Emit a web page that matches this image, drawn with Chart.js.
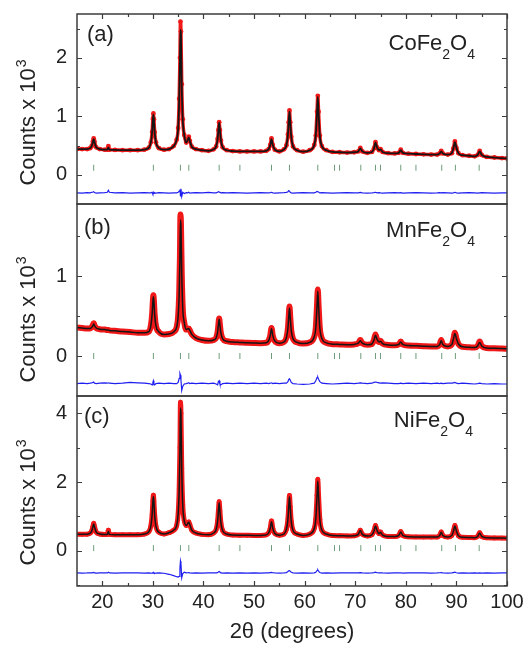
<!DOCTYPE html>
<html>
<head>
<meta charset="utf-8">
<title>XRD refinement</title>
<script src="https://cdn.jsdelivr.net/npm/chart.js@4.4.1/dist/chart.umd.min.js"></script>
<style>
  html, body { margin: 0; padding: 0; background: #fff; }
  #wrap { position: relative; width: 525px; height: 646px; }
  #wrap canvas { position: absolute; left: 0; top: 0; }
</style>
</head>
<body>
<div id="wrap">
  <canvas id="panelA" width="525" height="646"></canvas>
  <canvas id="panelB" width="525" height="646"></canvas>
  <canvas id="panelC" width="525" height="646"></canvas>
</div>
<script>
// 2theta sampling (denser across each reflection)
const twoTheta = [
  15, 16, 17, 17.6, 17.9, 18.15, 18.3, 18.45, 18.8, 19.5, 20.5,
  21.0, 21.2, 21.4, 22.5, 24, 25.5, 27, 28.3, 29.2,
  29.6, 29.85, 30.0, 30.1, 30.2, 30.35, 30.6, 31.2, 32.2, 33.2, 34.1,
  34.7, 35.0, 35.2, 35.35, 35.45, 35.55, 35.7, 35.9, 36.2,
  36.6, 36.9, 37.1, 37.3, 37.7, 38.5, 39.7, 41, 42,
  42.5, 42.8, 42.95, 43.1, 43.25, 43.45, 43.8, 44.6, 45.8, 47.2, 48.6, 50, 51.3, 52.4,
  52.9, 53.2, 53.45, 53.7, 54.1, 55, 55.9,
  56.4, 56.7, 56.85, 57.0, 57.15, 57.35, 57.7, 58.5, 59.7, 61,
  61.9, 62.2, 62.45, 62.6, 62.75, 63.0, 63.4, 64.3, 65.5, 66.9, 68.4, 69.8,
  70.6, 71.0, 71.4, 72.4, 73.3, 73.7, 74.0, 74.3, 74.7, 75.0, 75.4, 76.5, 77.8,
  78.6, 79.0, 79.4, 80.5, 82, 83.5, 85, 86.2, 86.7, 87.0, 87.3, 88.3, 89.1,
  89.4, 89.7, 90.0, 90.4, 91.2, 92.5, 93.6, 94.2, 94.6, 95.0, 96, 97.5, 99, 100
];

// CoFe2O4 (counts x 10^3)
const obsA = [
  0.44, 0.44, 0.44, 0.455, 0.49, 0.57, 0.62, 0.57, 0.47, 0.44, 0.43,
  0.43, 0.49, 0.43, 0.425, 0.42, 0.42, 0.42, 0.43, 0.465,
  0.555, 0.73, 0.955, 1.05, 0.95, 0.73, 0.555, 0.455, 0.43, 0.44, 0.49,
  0.6, 0.8, 1.3, 2.0, 2.62, 2.45, 1.55, 0.95, 0.68,
  0.55, 0.6, 0.65, 0.58, 0.48, 0.44, 0.42, 0.41, 0.435,
  0.485, 0.615, 0.765, 0.9, 0.765, 0.585, 0.47, 0.42, 0.405, 0.4, 0.4, 0.4, 0.4, 0.41,
  0.44, 0.51, 0.62, 0.51, 0.43, 0.4, 0.435,
  0.505, 0.69, 0.9, 1.1, 0.9, 0.65, 0.485, 0.42, 0.395, 0.42,
  0.51, 0.67, 1.08, 1.35, 1.08, 0.67, 0.49, 0.42, 0.39, 0.385, 0.38, 0.385,
  0.4, 0.46, 0.4, 0.375, 0.39, 0.45, 0.56, 0.47, 0.42, 0.44, 0.39, 0.37, 0.365,
  0.375, 0.43, 0.375, 0.36, 0.355, 0.35, 0.345, 0.345, 0.365, 0.41, 0.365, 0.345, 0.37,
  0.45, 0.57, 0.46, 0.37, 0.335, 0.325, 0.315, 0.34, 0.41, 0.34, 0.305, 0.295, 0.285, 0.28
];
const calcA = [
  0.44, 0.44, 0.44, 0.455, 0.49, 0.56, 0.61, 0.56, 0.47, 0.44, 0.43,
  0.43, 0.47, 0.43, 0.425, 0.42, 0.42, 0.42, 0.43, 0.465,
  0.555, 0.73, 0.95, 1.03, 0.94, 0.73, 0.555, 0.455, 0.43, 0.44, 0.49,
  0.6, 0.8, 1.28, 1.95, 2.48, 2.4, 1.55, 0.95, 0.68,
  0.55, 0.6, 0.64, 0.58, 0.48, 0.44, 0.42, 0.41, 0.435,
  0.485, 0.615, 0.76, 0.89, 0.76, 0.585, 0.47, 0.42, 0.405, 0.4, 0.4, 0.4, 0.4, 0.41,
  0.44, 0.51, 0.61, 0.51, 0.43, 0.4, 0.435,
  0.505, 0.69, 0.9, 1.08, 0.9, 0.65, 0.485, 0.42, 0.395, 0.42,
  0.51, 0.67, 1.07, 1.33, 1.07, 0.67, 0.49, 0.42, 0.39, 0.385, 0.38, 0.385,
  0.4, 0.45, 0.4, 0.375, 0.39, 0.45, 0.55, 0.47, 0.42, 0.435, 0.39, 0.37, 0.365,
  0.375, 0.42, 0.375, 0.36, 0.355, 0.35, 0.345, 0.345, 0.365, 0.4, 0.365, 0.345, 0.37,
  0.45, 0.56, 0.46, 0.37, 0.335, 0.325, 0.315, 0.34, 0.4, 0.34, 0.305, 0.295, 0.285, 0.28
];
const diffA = [
  -0.31, -0.315, -0.305, -0.31, -0.3, -0.295, -0.29, -0.305, -0.315, -0.31, -0.305,
  -0.3, -0.265, -0.3, -0.31, -0.305, -0.315, -0.31, -0.305, -0.31,
  -0.31, -0.3, -0.33, -0.32, -0.3, -0.31, -0.315, -0.305, -0.31, -0.315, -0.31,
  -0.31, -0.3, -0.28, -0.25, -0.36, -0.24, -0.37, -0.3, -0.32,
  -0.305, -0.31, -0.3, -0.315, -0.31, -0.305, -0.31, -0.3, -0.31,
  -0.31, -0.3, -0.29, -0.295, -0.3, -0.31, -0.305, -0.31, -0.305, -0.31, -0.315, -0.31, -0.305, -0.31,
  -0.31, -0.305, -0.3, -0.31, -0.315, -0.31, -0.305,
  -0.3, -0.29, -0.27, -0.28, -0.3, -0.31, -0.315, -0.31, -0.305, -0.31,
  -0.31, -0.3, -0.285, -0.29, -0.295, -0.31, -0.305, -0.31, -0.315, -0.31, -0.305, -0.31,
  -0.31, -0.3, -0.31, -0.315, -0.31, -0.305, -0.3, -0.31, -0.305, -0.31, -0.315, -0.31, -0.305,
  -0.31, -0.305, -0.315, -0.31, -0.305, -0.31, -0.315, -0.31, -0.305, -0.31, -0.305, -0.31, -0.315,
  -0.31, -0.3, -0.31, -0.315, -0.31, -0.305, -0.31, -0.315, -0.31, -0.305, -0.31, -0.315, -0.31, -0.31
];

// MnFe2O4
const obsB = [
  0.355, 0.35, 0.345, 0.345, 0.36, 0.39, 0.41, 0.385, 0.35, 0.335, 0.33,
  0.325, 0.325, 0.32, 0.315, 0.305, 0.3, 0.29, 0.29, 0.305,
  0.38, 0.52, 0.69, 0.76, 0.69, 0.52, 0.38, 0.3, 0.27, 0.275, 0.3,
  0.36, 0.5, 0.78, 1.25, 1.77, 1.65, 1.05, 0.6, 0.42,
  0.33, 0.34, 0.345, 0.32, 0.27, 0.225, 0.2, 0.19, 0.2,
  0.226, 0.3, 0.39, 0.47, 0.39, 0.285, 0.215, 0.185, 0.175, 0.17, 0.165, 0.162, 0.16, 0.165,
  0.196, 0.255, 0.35, 0.255, 0.187, 0.16, 0.175,
  0.23, 0.35, 0.49, 0.62, 0.49, 0.32, 0.215, 0.17, 0.155, 0.17,
  0.24, 0.35, 0.64, 0.83, 0.64, 0.35, 0.22, 0.165, 0.148, 0.145, 0.142, 0.145,
  0.16, 0.2, 0.16, 0.14, 0.15, 0.2, 0.27, 0.21, 0.175, 0.19, 0.155, 0.138, 0.133,
  0.145, 0.18, 0.145, 0.13, 0.127, 0.123, 0.12, 0.12, 0.145, 0.2, 0.145, 0.12, 0.145,
  0.21, 0.29, 0.22, 0.15, 0.115, 0.11, 0.105, 0.125, 0.18, 0.125, 0.1, 0.097, 0.093, 0.09
];
const calcB = [
  0.355, 0.35, 0.345, 0.345, 0.355, 0.38, 0.4, 0.38, 0.35, 0.335, 0.33,
  0.325, 0.325, 0.32, 0.315, 0.305, 0.3, 0.29, 0.29, 0.305,
  0.38, 0.52, 0.68, 0.74, 0.68, 0.52, 0.38, 0.3, 0.27, 0.275, 0.3,
  0.36, 0.5, 0.78, 1.22, 1.7, 1.62, 1.05, 0.6, 0.42,
  0.33, 0.34, 0.34, 0.32, 0.27, 0.225, 0.2, 0.19, 0.2,
  0.226, 0.3, 0.385, 0.46, 0.385, 0.285, 0.215, 0.185, 0.175, 0.17, 0.165, 0.162, 0.16, 0.165,
  0.196, 0.255, 0.34, 0.255, 0.187, 0.16, 0.175,
  0.23, 0.35, 0.48, 0.6, 0.48, 0.32, 0.215, 0.17, 0.155, 0.17,
  0.24, 0.35, 0.63, 0.81, 0.63, 0.35, 0.22, 0.165, 0.148, 0.145, 0.142, 0.145,
  0.16, 0.19, 0.16, 0.14, 0.15, 0.2, 0.26, 0.21, 0.175, 0.185, 0.155, 0.138, 0.133,
  0.145, 0.175, 0.145, 0.13, 0.127, 0.123, 0.12, 0.12, 0.145, 0.19, 0.145, 0.12, 0.145,
  0.21, 0.28, 0.22, 0.15, 0.115, 0.11, 0.105, 0.125, 0.17, 0.125, 0.1, 0.097, 0.093, 0.09
];
const diffB = [
  -0.345, -0.34, -0.345, -0.34, -0.335, -0.33, -0.325, -0.34, -0.345, -0.34, -0.335,
  -0.34, -0.335, -0.34, -0.345, -0.34, -0.33, -0.335, -0.34, -0.345,
  -0.35, -0.36, -0.33, -0.31, -0.35, -0.36, -0.345, -0.34, -0.345, -0.34, -0.345,
  -0.345, -0.33, -0.28, -0.22, -0.24, -0.3, -0.43, -0.38, -0.35,
  -0.345, -0.34, -0.335, -0.345, -0.34, -0.345, -0.34, -0.345, -0.34,
  -0.35, -0.36, -0.32, -0.31, -0.35, -0.36, -0.345, -0.34, -0.345, -0.34, -0.345, -0.34, -0.345, -0.34,
  -0.345, -0.34, -0.335, -0.345, -0.34, -0.345, -0.34,
  -0.34, -0.32, -0.295, -0.285, -0.3, -0.33, -0.345, -0.35, -0.355, -0.35,
  -0.34, -0.31, -0.27, -0.265, -0.29, -0.32, -0.34, -0.345, -0.35, -0.345, -0.34, -0.345,
  -0.34, -0.335, -0.34, -0.345, -0.34, -0.33, -0.325, -0.33, -0.335, -0.34, -0.335, -0.34, -0.345,
  -0.345, -0.34, -0.345, -0.34, -0.345, -0.34, -0.345, -0.34, -0.345, -0.34, -0.345, -0.34, -0.34,
  -0.335, -0.33, -0.34, -0.345, -0.34, -0.345, -0.35, -0.345, -0.34, -0.345, -0.35, -0.345, -0.35, -0.35
];

// NiFe2O4
const obsC = [
  0.48, 0.48, 0.485, 0.515, 0.575, 0.71, 0.8, 0.71, 0.545, 0.49, 0.475,
  0.48, 0.6, 0.48, 0.472, 0.47, 0.47, 0.47, 0.49, 0.56,
  0.72, 1.05, 1.45, 1.62, 1.45, 1.05, 0.72, 0.54, 0.49, 0.53, 0.6,
  0.74, 1.08, 1.8, 3.0, 4.32, 4.0, 2.4, 1.35, 0.88,
  0.74, 0.8, 0.84, 0.76, 0.6, 0.52, 0.48, 0.47, 0.52,
  0.615, 0.87, 1.16, 1.43, 1.16, 0.81, 0.586, 0.49, 0.46, 0.455, 0.452, 0.45, 0.45, 0.465,
  0.527, 0.657, 0.87, 0.657, 0.506, 0.455, 0.49,
  0.63, 0.93, 1.285, 1.61, 1.285, 0.865, 0.595, 0.49, 0.45, 0.49,
  0.65, 0.92, 1.62, 2.08, 1.62, 0.92, 0.6, 0.49, 0.445, 0.44, 0.435, 0.44,
  0.48, 0.6, 0.48, 0.43, 0.47, 0.58, 0.74, 0.6, 0.5, 0.55, 0.46, 0.42, 0.415,
  0.45, 0.56, 0.45, 0.41, 0.405, 0.402, 0.4, 0.4, 0.45, 0.55, 0.45, 0.4, 0.45,
  0.57, 0.74, 0.58, 0.44, 0.395, 0.39, 0.385, 0.42, 0.53, 0.42, 0.38, 0.375, 0.372, 0.37
];
const calcC = [
  0.48, 0.48, 0.485, 0.515, 0.575, 0.7, 0.78, 0.7, 0.545, 0.49, 0.475,
  0.48, 0.56, 0.48, 0.472, 0.47, 0.47, 0.47, 0.49, 0.56,
  0.72, 1.05, 1.43, 1.58, 1.43, 1.05, 0.72, 0.54, 0.49, 0.53, 0.6,
  0.74, 1.08, 1.78, 2.9, 4.15, 3.95, 2.4, 1.35, 0.88,
  0.74, 0.8, 0.83, 0.76, 0.6, 0.52, 0.48, 0.47, 0.52,
  0.615, 0.87, 1.15, 1.4, 1.15, 0.81, 0.586, 0.49, 0.46, 0.455, 0.452, 0.45, 0.45, 0.465,
  0.527, 0.657, 0.85, 0.657, 0.506, 0.455, 0.49,
  0.63, 0.93, 1.27, 1.57, 1.27, 0.865, 0.595, 0.49, 0.45, 0.49,
  0.65, 0.92, 1.6, 2.03, 1.6, 0.92, 0.6, 0.49, 0.445, 0.44, 0.435, 0.44,
  0.48, 0.59, 0.48, 0.43, 0.47, 0.58, 0.72, 0.6, 0.5, 0.54, 0.46, 0.42, 0.415,
  0.45, 0.55, 0.45, 0.41, 0.405, 0.402, 0.4, 0.4, 0.45, 0.54, 0.45, 0.4, 0.45,
  0.57, 0.72, 0.58, 0.44, 0.395, 0.39, 0.385, 0.42, 0.52, 0.42, 0.38, 0.375, 0.372, 0.37
];
const diffC = [
  -0.64, -0.645, -0.64, -0.635, -0.64, -0.63, -0.625, -0.64, -0.645, -0.64, -0.635,
  -0.64, -0.62, -0.64, -0.645, -0.64, -0.635, -0.64, -0.645, -0.64,
  -0.645, -0.65, -0.63, -0.62, -0.64, -0.65, -0.645, -0.64, -0.65, -0.68, -0.72,
  -0.75, -0.76, -0.74, -0.5, -0.3, -0.38, -0.78, -0.66, -0.62,
  -0.64, -0.635, -0.63, -0.64, -0.645, -0.64, -0.645, -0.64, -0.635,
  -0.64, -0.63, -0.61, -0.6, -0.62, -0.64, -0.645, -0.64, -0.645, -0.64, -0.645, -0.64, -0.645, -0.64,
  -0.64, -0.63, -0.625, -0.635, -0.64, -0.645, -0.64,
  -0.63, -0.6, -0.58, -0.575, -0.59, -0.62, -0.64, -0.645, -0.64, -0.645,
  -0.64, -0.62, -0.57, -0.55, -0.59, -0.63, -0.645, -0.64, -0.645, -0.64, -0.635, -0.64,
  -0.64, -0.63, -0.64, -0.645, -0.64, -0.63, -0.62, -0.635, -0.64, -0.635, -0.64, -0.645, -0.64,
  -0.64, -0.635, -0.645, -0.64, -0.635, -0.64, -0.645, -0.64, -0.635, -0.63, -0.64, -0.645, -0.64,
  -0.63, -0.62, -0.635, -0.645, -0.64, -0.645, -0.64, -0.645, -0.64, -0.645, -0.64, -0.645, -0.64, -0.64
];

// spinel Bragg reflection positions (2theta)
const braggPos = [18.3, 30.1, 35.45, 37.1, 43.1, 47.2, 53.45, 57.0, 62.6, 65.9, 66.9,
                  71.1, 74.0, 75.0, 79.0, 82.0, 87.1, 89.8, 94.5];

// axis ticks
const xTicks = [20, 30, 40, 50, 60, 70, 80, 90, 100];
const xMinorTicks = [25, 35, 45, 55, 65, 75, 85, 95];
const yTicksA = [0, 1, 2];
const yMinorA = [0.5, 1.5, 2.5];
const yTicksB = [0, 1];
const yMinorB = [0.5, 1.5];
const yTicksC = [0, 2, 4];
const yMinorC = [-1, 1, 3];

const FONT = "'Liberation Sans', Arial, Helvetica, sans-serif";
const TEXT = '#222';

function drawFormula(ctx, parts, right, baseline) {
    // parts: [text, isSubscript]
    const widths = parts.map(([t, sub]) => {
        ctx.font = (sub ? '14px ' : '22px ') + FONT;
        return ctx.measureText(t).width;
    });
    let x = right - widths.reduce((s, w) => s + w, 0);
    parts.forEach(([t, sub], i) => {
        ctx.font = (sub ? '14px ' : '22px ') + FONT;
        ctx.fillText(t, x, sub ? baseline + 9 : baseline);
        x += widths[i];
    });
}

function drawYTitle(ctx, cx, cy) {
    const main = 'Counts x 10', sup = '3';
    ctx.save();
    ctx.translate(cx, cy);
    ctx.rotate(-Math.PI / 2);
    ctx.font = '22px ' + FONT;
    const wMain = ctx.measureText(main).width;
    ctx.font = '14px ' + FONT;
    const wSup = ctx.measureText(sup).width;
    const x0 = -(wMain + wSup) / 2;
    ctx.font = '22px ' + FONT;
    ctx.fillText(main, x0, 7);
    ctx.font = '14px ' + FONT;
    ctx.fillText(sup, x0 + wMain + 1, -2);
    ctx.restore();
}

// frame, inward tick marks and panel annotations
function panelDecor(p) {
    return {
        id: 'panelDecor',
        afterDraw(chart) {
            const { ctx, chartArea: a, scales: { x, y } } = chart;
            ctx.save();
            ctx.strokeStyle = '#3c3c3c';
            ctx.lineWidth = 1.2;
            const yMark = (v, len) => {
                const py = Math.round(y.getPixelForValue(v)) + 0.5;
                ctx.beginPath();
                ctx.moveTo(a.left, py); ctx.lineTo(a.left + len, py);
                ctx.moveTo(a.right, py); ctx.lineTo(a.right - len, py);
                ctx.stroke();
            };
            p.yTicks.forEach(v => yMark(v, 5));
            p.yMinor.forEach(v => yMark(v, 3));
            const xMark = (v, len) => {
                const px = Math.round(x.getPixelForValue(v)) + 0.5;
                ctx.beginPath();
                if (p.topTicks) { ctx.moveTo(px, a.top); ctx.lineTo(px, a.top + len); }
                if (p.bottomTicks) { ctx.moveTo(px, a.bottom); ctx.lineTo(px, a.bottom - len); }
                ctx.stroke();
            };
            xTicks.forEach(v => xMark(v, 5));
            xMinorTicks.forEach(v => xMark(v, 3));

            ctx.lineWidth = 1.5;
            ctx.strokeRect(a.left, a.top, a.right - a.left, a.bottom - a.top);

            ctx.fillStyle = TEXT;
            ctx.textBaseline = 'alphabetic';
            ctx.textAlign = 'left';
            ctx.font = '22px ' + FONT;
            ctx.fillText(p.label, p.labelPos[0], p.labelPos[1]);
            drawFormula(ctx, p.formula, p.formulaPos[0], p.formulaPos[1]);
            drawYTitle(ctx, 28, p.titleY);
            if (p.xTitle) {
                ctx.textAlign = 'center';
                ctx.font = '22px ' + FONT;
                ctx.fillText(p.xTitle, (a.left + a.right) / 2, 638);
            }
            ctx.restore();
        }
    };
}

const toPts = arr => twoTheta.map((t, i) => ({ x: t, y: arr[i] }));

function makePanel(p) {
    const canvas = document.getElementById(p.id);
    if (!canvas) {
        console.error(`Elemento ${p.id} no encontrado`);
        return;
    }
    new Chart(canvas, {
        type: 'scatter',
        data: {
            datasets: [
                {
                    label: 'calc',
                    data: toPts(p.calc),
                    showLine: true,
                    borderColor: '#151515',
                    borderWidth: p.calcWidth,
                    pointRadius: 0,
                    cubicInterpolationMode: 'monotone',
                    order: 1
                },
                {
                    label: 'obs',
                    data: toPts(p.obs),
                    showLine: true,
                    borderColor: '#f01818',
                    backgroundColor: '#f01818',
                    borderWidth: p.obsWidth,
                    pointRadius: 2.4,
                    pointBorderWidth: 0,
                    cubicInterpolationMode: 'monotone',
                    order: 4
                },
                {
                    label: 'bragg',
                    data: braggPos.map(v => ({ x: v, y: p.braggY })),
                    showLine: false,
                    pointStyle: 'line',
                    rotation: 90,
                    pointRadius: 3,
                    borderColor: '#6f9c7c',
                    borderWidth: 1,
                    order: 3
                },
                {
                    label: 'diff',
                    data: toPts(p.diff),
                    showLine: true,
                    borderColor: '#1f1ff0',
                    borderWidth: 1.2,
                    pointRadius: 0,
                    order: 2
                }
            ]
        },
        options: {
            responsive: false,
            animation: false,
            devicePixelRatio: 1,
            events: [],
            layout: { padding: { left: 0, right: 18, top: p.padTop, bottom: p.padBottom } },
            plugins: {
                legend: { display: false },
                tooltip: { enabled: false }
            },
            scales: {
                x: {
                    type: 'linear',
                    min: 15,
                    max: 100,
                    display: p.showX,
                    afterBuildTicks: s => { s.ticks = xTicks.map(v => ({ value: v })); },
                    afterFit: s => {
                        s.height = p.showX ? 60 : 0;
                        s.paddingLeft = 0;
                        s.paddingRight = 0;
                    },
                    grid: { display: false, drawTicks: false },
                    border: { display: false },
                    ticks: {
                        autoSkip: false,
                        maxRotation: 0,
                        padding: 4,
                        color: TEXT,
                        font: { family: FONT, size: 20 }
                    }
                },
                y: {
                    type: 'linear',
                    min: p.yMin,
                    max: p.yMax,
                    afterBuildTicks: s => { s.ticks = p.yTicks.map(v => ({ value: v })); },
                    afterFit: s => { s.width = 77; s.paddingTop = 0; s.paddingBottom = 0; },
                    grid: { display: false, drawTicks: false },
                    border: { display: false },
                    ticks: {
                        padding: 10,
                        color: TEXT,
                        font: { family: FONT, size: 20 }
                    }
                }
            }
        },
        plugins: [panelDecor(p)]
    });
}

makePanel({
    id: 'panelA', obs: obsA, calc: calcA, diff: diffA,
    yMin: -0.5, yMax: 2.75, yTicks: yTicksA, yMinor: yMinorA, braggY: 0.12,
    padTop: 14, padBottom: 442, showX: false, topTicks: true, bottomTicks: false,
    obsWidth: 3.5, calcWidth: 1.8,
    label: '(a)', labelPos: [87, 41],
    formula: [['CoFe', false], ['2', true], ['O', false], ['4', true]], formulaPos: [475, 50],
    titleY: 123
});
makePanel({
    id: 'panelB', obs: obsB, calc: calcB, diff: diffB,
    yMin: -0.5, yMax: 1.9, yTicks: yTicksB, yMinor: yMinorB, braggY: 0.0,
    padTop: 204, padBottom: 250, showX: false, topTicks: false, bottomTicks: false,
    obsWidth: 6, calcWidth: 1.5,
    label: '(b)', labelPos: [84, 234],
    formula: [['MnFe', false], ['2', true], ['O', false], ['4', true]], formulaPos: [475, 237],
    titleY: 320
});
makePanel({
    id: 'panelC', obs: obsC, calc: calcC, diff: diffC,
    yMin: -1.02, yMax: 4.5, yTicks: yTicksC, yMinor: yMinorC, braggY: 0.08,
    padTop: 396, padBottom: 0, showX: true, topTicks: false, bottomTicks: true,
    obsWidth: 5, calcWidth: 1.5,
    label: '(c)', labelPos: [84, 423],
    formula: [['NiFe', false], ['2', true], ['O', false], ['4', true]], formulaPos: [473, 427],
    titleY: 503, xTitle: '2θ (degrees)'
});
</script>
</body>
</html>
